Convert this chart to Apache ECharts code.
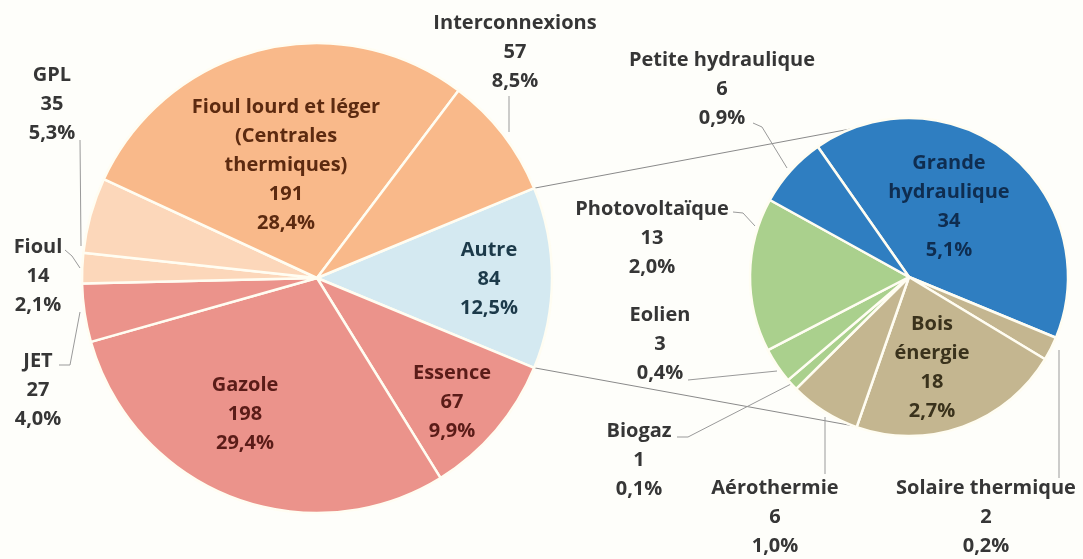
<!DOCTYPE html>
<html>
<head>
<meta charset="utf-8">
<script src="https://cdn.jsdelivr.net/npm/echarts@6/dist/echarts.min.js"></script>
<style>
html,body{margin:0;padding:0;background:#fefefa;}
#c{width:1083px;height:559px;}
</style>
</head>
<body>
<div id="c"></div>
<script>
// ---- data ----
const mainNames = ['Autre', 'Essence', 'Gazole', 'JET', 'Fioul', 'GPL', 'Fioul lourd et léger\n(Centrales\nthermiques)', 'Interconnexions'];
const mainValues = [84, 67, 198, 27, 14, 35, 191, 57];
const mainPercents = ['12,5%', '9,9%', '29,4%', '4,0%', '2,1%', '5,3%', '28,4%', '8,5%'];

const subNames = ['Grande\nhydraulique', 'Solaire thermique', 'Bois\nénergie', 'Aérothermie', 'Biogaz', 'Eolien', 'Photovoltaïque', 'Petite hydraulique'];
const subValues = [34, 2, 18, 6, 1, 3, 13, 6];
const subPercents = ['5,1%', '0,2%', '2,7%', '1,0%', '0,1%', '0,4%', '2,0%', '0,9%'];

// ---- styles / layout ----
const ORANGE = '#F9B98A', PEACH = '#FCD7BA', SALMON = '#EB938B', LBLUE = '#D4E9F1';
const BLUE = '#2F7EC1', GREEN = '#AAD08D', TAN = '#C4B690';
const mainColors = [LBLUE, SALMON, SALMON, SALMON, PEACH, PEACH, ORANGE, ORANGE];
const subColors = [BLUE, TAN, TAN, TAN, GREEN, GREEN, GREEN, BLUE];
const OUT = '#363636';
const mainTextColors = ['#1c3a4a', '#5a1c18', '#5a1c18', OUT, OUT, OUT, '#5c2a10', OUT];
const subTextColors = ['#0f2d50', OUT, '#3a321c', OUT, OUT, OUT, OUT, OUT];

const mainCenter = [317, 278], mainRadius = 235;
const subCenter = [909, 277], subRadius = 159;

const mainLabelPos = [[489, 279], [452, 402], [245, 414], [38, 390], [38, 276], [52, 104], [286, 165], [515, 52]];
const mainLeaders = [null, null, null, [[59, 365], [70, 365], [80, 312]], [[65, 250], [72, 256], [80, 268]], [[80, 140], [80, 140], [81, 246]], null, [[509, 96], [509, 96], [509, 132]]];
const subLabelPos = [[949, 207], [986, 517], [932, 368], [775, 517], [639, 460], [660, 344], [652, 238], [722, 89]];
const subLeaders = [null, [[1059, 478], [1059, 478], [1059, 350]], null, [[825, 474], [825, 474], [825, 417]], [[677, 437], [688, 437], [793, 383]], [[688, 380], [688, 380], [777, 371]], [[733, 212], [743, 213], [755, 226]], [[753, 123], [762, 127], [787, 168]]];

const FONT = '"Open Sans", "DejaVu Sans", sans-serif';

function makeData(names, values, colors, textColors, leaders) {
  return names.map((n, i) => ({
    name: n,
    value: values[i],
    itemStyle: { color: colors[i] },
    label: { color: textColors[i] },
    labelLine: { show: !!leaders[i] }
  }));
}

function series(names, values, percents, colors, textColors, center, radius, startAngle, labelPos, leaders) {
  return {
    type: 'pie',
    center: center,
    radius: radius,
    startAngle: startAngle,
    clockwise: true,
    avoidLabelOverlap: false,
    minShowLabelAngle: 0,
    animation: false,
    emphasis: { disabled: true },
    itemStyle: { borderColor: '#fffdf2', borderWidth: 2.5 },
    label: {
      show: true,
      position: 'outside',
      fontFamily: FONT,
      fontWeight: 'bold',
      fontSize: 20,
      lineHeight: 29,
      overflow: 'none',
      formatter: p => p.name + '\n' + p.value + '\n' + percents[p.dataIndex]
    },
    labelLine: { show: false, lineStyle: { color: '#9a9a9a', width: 1 }, smooth: false },
    labelLayout: p => {
      const pos = labelPos[p.dataIndex];
      const o = { x: pos[0], y: pos[1], align: 'center', verticalAlign: 'middle' };
      if (leaders[p.dataIndex]) o.labelLinePoints = leaders[p.dataIndex];
      return o;
    },
    data: makeData(names, values, colors, textColors, leaders)
  };
}

const mainTotal = mainValues.reduce((a, b) => a + b, 0);
const autreHalf = mainValues[0] / mainTotal * 180; // Autre slice centred on the right
const a = autreHalf * Math.PI / 180;
const p1 = [mainCenter[0] + mainRadius * Math.cos(a), mainCenter[1] - mainRadius * Math.sin(a)];
const p2 = [mainCenter[0] + mainRadius * Math.cos(a), mainCenter[1] + mainRadius * Math.sin(a)];
const q1 = [subCenter[0], subCenter[1] - subRadius];
const q2 = [subCenter[0], subCenter[1] + subRadius];

const chart = echarts.init(document.getElementById('c'), null, { renderer: 'canvas' });
chart.setOption({
  backgroundColor: '#fefefa',
  animation: false,
  graphic: [
    { type: 'line', z: 0, shape: { x1: p1[0], y1: p1[1], x2: q1[0], y2: q1[1] }, style: { stroke: '#8a8a8a', lineWidth: 1 } },
    { type: 'line', z: 0, shape: { x1: p2[0], y1: p2[1], x2: q2[0], y2: q2[1] }, style: { stroke: '#8a8a8a', lineWidth: 1 } }
  ],
  series: [
    series(mainNames, mainValues, mainPercents, mainColors, mainTextColors, mainCenter, mainRadius, autreHalf, mainLabelPos, mainLeaders),
    series(subNames, subValues, subPercents, subColors, subTextColors, subCenter, subRadius, 125, subLabelPos, subLeaders)
  ]
});
</script>
</body>
</html>
